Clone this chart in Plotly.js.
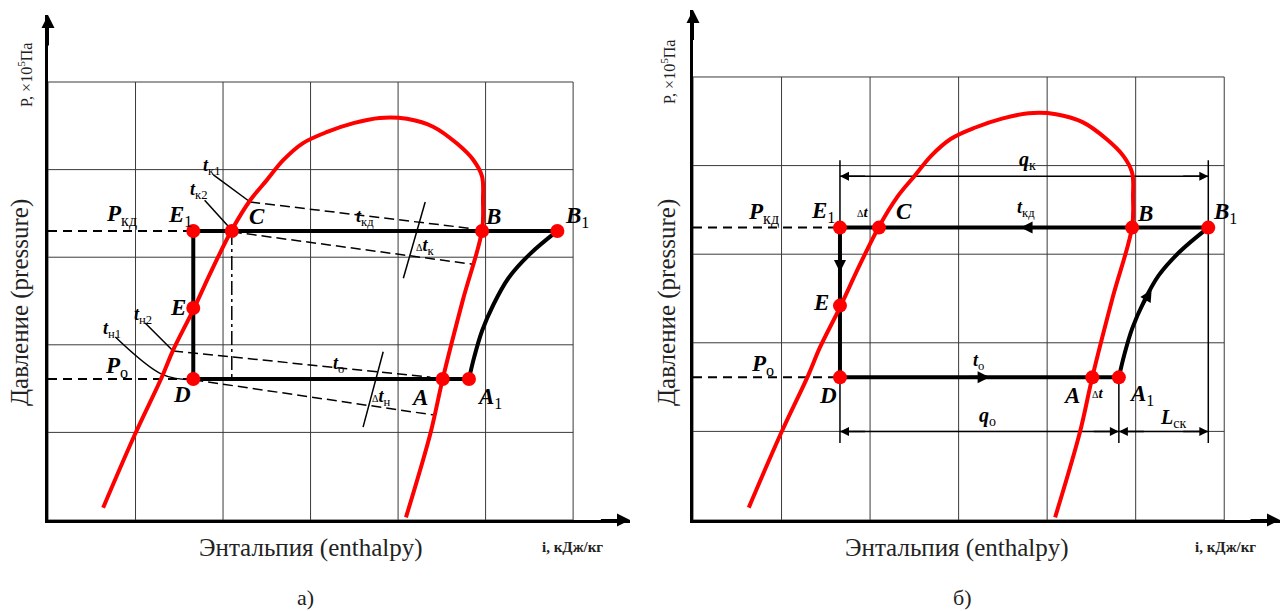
<!DOCTYPE html>
<html><head><meta charset="utf-8">
<script src="https://cdn.plot.ly/plotly-3.0.1.min.js"></script>
<style>html,body{margin:0;padding:0;background:#fff}#chart{width:1281px;height:611px}</style>
</head><body><div id="chart"></div>
<script>
// ---- data (diagram units: one grid cell = 1) ----
const gridX = [0, 1, 2, 3, 4, 5, 6];
const gridY = [0, 1, 2, 3, 4, 5];
// saturation dome (red)
const satX = [0.63, 0.99, 1.30, 1.43, 1.66, 1.87, 2.10, 2.31, 2.50, 2.69, 2.91, 3.19, 3.49, 3.79, 4.10, 4.40, 4.67, 4.86, 4.96, 4.97, 4.96, 4.74, 4.51, 4.37, 4.09];
const satY = [0.14, 0.97, 1.63, 1.94, 2.40, 2.85, 3.31, 3.65, 3.88, 4.11, 4.30, 4.43, 4.53, 4.59, 4.58, 4.49, 4.30, 4.11, 3.92, 3.65, 3.31, 2.51, 1.61, 0.99, 0.03];
// compression curve A1 -> B1
const compX = [4.81, 4.87, 4.96, 5.09, 5.26, 5.50, 5.82];
const compY = [1.61, 1.86, 2.16, 2.46, 2.76, 3.03, 3.30];
// state points
const pointNames = ['E1', 'C', 'B', 'B1', 'E', 'D', 'A', 'A1'];
const pointX = [1.66, 2.10, 4.96, 5.82, 1.66, 1.66, 4.51, 4.81];
const pointY = [3.30, 3.30, 3.30, 3.30, 2.42, 1.61, 1.61, 1.61];
const pKd = 3.30, pO = 1.61;
const iE1 = 1.66, iC = 2.10, iB1 = 5.82, iA1 = 4.81;
// panel a) temperature lines
const tk1LeadX = [1.89, 2.31], tk1LeadY = [3.94, 3.63];
const tk1DashX = [2.31, 4.82], tk1DashY = [3.63, 3.33];
const tk2LeadX = [1.79, 2.08], tk2LeadY = [3.65, 3.33];
const tk2DashX = [2.10, 4.85], tk2DashY = [3.29, 2.92];
const dtkX = [4.31, 4.06], dtkY = [3.63, 2.76];
const tn1LeadX = [0.77, 1.31, 1.66], tn1LeadY = [2.09, 1.66, 1.60];
const tn1DashX = [1.66, 4.40], tn1DashY = [1.60, 1.20];
const tn2LeadX = [1.11, 1.43], tn2LeadY = [2.25, 1.93];
const tn2DashX = [1.43, 4.37], tn2DashY = [1.93, 1.63];
const dtnX = [3.83, 3.60], dtnY = [1.92, 1.06];
// panel б) dimension lines
const qkLevel = 3.88, qoLevel = 1.00, extTop = 4.06, extBottom = 0.87;

// ---- helpers ----
const FONT = 'Liberation Serif';
function gridTrace(xa, ya) {
  const xs = [], ys = [];
  const x0 = gridX[0], x1 = gridX[gridX.length - 1], y0 = gridY[0], y1 = gridY[gridY.length - 1];
  gridX.forEach(g => { xs.push(g, g, null); ys.push(y0, y1, null); });
  gridY.forEach(g => { xs.push(x0, x1, null); ys.push(g, g, null); });
  return {x: xs, y: ys, xaxis: xa, yaxis: ya, mode: 'lines', line: {color: '#3a3a3a', width: 1}, hoverinfo: 'skip'};
}
function line(x, y, xa, ya, opts) {
  return Object.assign({x: x, y: y, xaxis: xa, yaxis: ya, mode: 'lines', hoverinfo: 'skip',
    line: {color: '#000', width: 1.5}}, opts || {});
}
function cycleTraces(xa, ya) {
  return [
    line([0, iE1], [pKd, pKd], xa, ya, {line: {color: '#000', width: 2, dash: '9px,6px'}}),
    line([0, iE1], [pO, pO], xa, ya, {line: {color: '#000', width: 2, dash: '9px,6px'}}),
    line([iE1, iB1], [pKd, pKd], xa, ya, {line: {color: '#000', width: 4}}),
    line([iE1, iE1], [pKd, pO], xa, ya, {line: {color: '#000', width: 4}}),
    line([iE1, iA1], [pO, pO], xa, ya, {line: {color: '#000', width: 4}}),
    line(compX, compY, xa, ya, {line: {color: '#000', width: 4, shape: 'spline', smoothing: 1}}),
    line(satX, satY, xa, ya, {line: {color: '#ff0000', width: 4, shape: 'spline', smoothing: 1}}),
    {x: pointX, y: pointY, text: pointNames, xaxis: xa, yaxis: ya, mode: 'markers', hoverinfo: 'text',
     marker: {color: '#ff0000', size: 14}}
  ];
}
const traces = [gridTrace('x', 'y'), gridTrace('x2', 'y2')];
// panel a)
traces.push(line([iC, iC], [pKd, pO], 'x', 'y', {line: {color: '#000', width: 1.5, dash: '14px,4px,3px,4px'}}));
traces.push(line(tk1LeadX, tk1LeadY, 'x', 'y'));
traces.push(line(tk1DashX, tk1DashY, 'x', 'y', {line: {color: '#000', width: 1.5, dash: '10px,5px'}}));
traces.push(line(tk2LeadX, tk2LeadY, 'x', 'y'));
traces.push(line(tk2DashX, tk2DashY, 'x', 'y', {line: {color: '#000', width: 1.5, dash: '10px,5px'}}));
traces.push(line(dtkX, dtkY, 'x', 'y'));
traces.push(line(tn1LeadX, tn1LeadY, 'x', 'y', {line: {color: '#000', width: 1.5, shape: 'spline'}}));
traces.push(line(tn1DashX, tn1DashY, 'x', 'y', {line: {color: '#000', width: 1.5, dash: '10px,5px'}}));
traces.push(line(tn2LeadX, tn2LeadY, 'x', 'y'));
traces.push(line(tn2DashX, tn2DashY, 'x', 'y', {line: {color: '#000', width: 1.5, dash: '10px,5px'}}));
traces.push(line(dtnX, dtnY, 'x', 'y'));
cycleTraces('x', 'y').forEach(t => traces.push(t));
// panel б)
traces.push(line([iE1, iE1], [extBottom, extTop], 'x2', 'y2'));
traces.push(line([iB1, iB1], [extBottom, extTop], 'x2', 'y2'));
traces.push(line([iA1, iA1], [pO, extBottom], 'x2', 'y2'));
traces.push(line([iE1, iB1], [qkLevel, qkLevel], 'x2', 'y2'));
traces.push(line([iE1, iB1], [qoLevel, qoLevel], 'x2', 'y2'));
cycleTraces('x2', 'y2').forEach(t => traces.push(t));

// ---- annotations ----
const ann = [];
function txt(t, x, y, size, xa, ya, extra) {
  ann.push(Object.assign({text: t, x: x, y: y, xref: xa, yref: ya, showarrow: false,
    font: {family: FONT, size: size, color: '#000'}, xanchor: 'center', yanchor: 'middle'}, extra || {}));
}
function arrow(x, y, ax, ay, xa, ya, w, s) {
  ann.push({text: '', x: x, y: y, ax: ax, ay: ay, xref: xa, yref: ya, axref: xa, ayref: ya,
    showarrow: true, arrowhead: 2, arrowsize: s || 1, arrowwidth: w || 1.5, arrowcolor: '#000', standoff: 0, startstandoff: 0});
}
const L = (s) => '<b><i>' + s + '</i></b>';
const BIG = 23, MID = 18;
[['x', 'y'], ['x2', 'y2']].forEach(([xa, ya]) => {
  arrow(xa === 'x' ? 6.65 : 6.63, 0, xa === 'x' ? 6.3 : 6.28, 0, xa, ya, 2, 1.3);
  arrow(0, xa === 'x' ? 5.765 : 5.756, 0, 5.4, xa, ya, 2, 1.3);
});
// panel a) labels
txt(L('P') + '<sub>кд</sub>', 0.84, 3.48, BIG, 'x', 'y');
txt(L('E') + '<sub>1</sub>', 1.51, 3.47, BIG, 'x', 'y');
txt(L('C'), 2.39, 3.47, BIG, 'x', 'y');
txt(L('B'), 5.09, 3.47, BIG, 'x', 'y');
txt(L('B') + '<sub>1</sub>', 6.04, 3.46, BIG, 'x', 'y');
txt(L('E'), 1.49, 2.43, BIG, 'x', 'y');
txt(L('D'), 1.53, 1.43, BIG, 'x', 'y');
txt(L('P') + '<sub>о</sub>', 0.78, 1.75, BIG, 'x', 'y');
txt(L('A'), 4.25, 1.40, BIG, 'x', 'y');
txt(L('A') + '<sub>1</sub>', 5.05, 1.39, BIG, 'x', 'y');
txt(L('t') + '<sub>к1</sub>', 1.87, 4.04, MID, 'x', 'y');
txt(L('t') + '<sub>к2</sub>', 1.72, 3.76, MID, 'x', 'y');
txt(L('t') + '<sub>кд</sub>', 3.62, 3.45, MID, 'x', 'y');
txt('<span style="font-size:10px">Δ</span>' + L('t') + '<sub>к</sub>', 4.31, 3.12, MID, 'x', 'y');
txt(L('t') + '<sub>н1</sub>', 0.73, 2.18, MID, 'x', 'y');
txt(L('t') + '<sub>н2</sub>', 1.09, 2.33, MID, 'x', 'y');
txt(L('t') + '<sub>о</sub>', 3.32, 1.78, MID, 'x', 'y');
txt('<span style="font-size:10px">Δ</span>' + L('t') + '<sub>н</sub>', 3.80, 1.40, MID, 'x', 'y');
// panel б) labels
txt(L('P') + '<sub>кд</sub>', 0.80, 3.46, BIG, 'x2', 'y2');
txt(L('E') + '<sub>1</sub>', 1.47, 3.48, BIG, 'x2', 'y2');
txt('<span style="font-size:10px">Δ</span>' + L('t'), 1.91, 3.48, 15, 'x2', 'y2');
txt(L('C'), 2.38, 3.48, BIG, 'x2', 'y2');
txt(L('t') + '<sub>кд</sub>', 3.76, 3.52, MID, 'x2', 'y2');
txt(L('B'), 5.10, 3.46, BIG, 'x2', 'y2');
txt(L('B') + '<sub>1</sub>', 6.01, 3.46, BIG, 'x2', 'y2');
txt(L('q') + '<sub>к</sub>', 3.78, 4.06, 20, 'x2', 'y2');
txt(L('E'), 1.45, 2.45, BIG, 'x2', 'y2');
txt(L('P') + '<sub>о</sub>', 0.78, 1.75, BIG, 'x2', 'y2');
txt(L('D'), 1.52, 1.41, BIG, 'x2', 'y2');
txt(L('t') + '<sub>о</sub>', 3.23, 1.79, MID, 'x2', 'y2');
txt(L('A'), 4.27, 1.41, BIG, 'x2', 'y2');
txt('<span style="font-size:10px">Δ</span>' + L('t'), 4.57, 1.43, 15, 'x2', 'y2');
txt(L('A') + '<sub>1</sub>', 5.06, 1.41, BIG, 'x2', 'y2');
txt(L('q') + '<sub>о</sub>', 3.33, 1.17, 20, 'x2', 'y2');
txt(L('L') + '<sub>ск</sub>', 5.42, 1.14, 20, 'x2', 'y2');
// dimension arrows (panel б)
arrow(iE1, qkLevel, iE1 + 0.3, qkLevel, 'x2', 'y2', 1.5, 1.2);
arrow(iB1, qkLevel, iB1 - 0.3, qkLevel, 'x2', 'y2', 1.5, 1.2);
arrow(iE1, qoLevel, iE1 + 0.3, qoLevel, 'x2', 'y2', 1.5, 1.2);
arrow(iA1, qoLevel, iA1 - 0.3, qoLevel, 'x2', 'y2', 1.5, 1.2);
arrow(iA1, qoLevel, iA1 + 0.3, qoLevel, 'x2', 'y2', 1.5, 1.2);
arrow(iB1, qoLevel, iB1 - 0.3, qoLevel, 'x2', 'y2', 1.5, 1.2);
// flow arrows (panel б)
arrow(3.70, pKd, 3.95, pKd, 'x2', 'y2', 3, 0.8);
arrow(iE1, 2.80, iE1, 3.05, 'x2', 'y2', 3, 0.8);
arrow(3.35, pO, 3.10, pO, 'x2', 'y2', 3, 0.8);
arrow(5.18, 2.60, 5.05, 2.38, 'x2', 'y2', 3, 0.8);
// axis titles & captions
function ptxt(t, px, py, size, angle) {
  ann.push({text: t, x: px / 1281, y: 1 - py / 611, xref: 'paper', yref: 'paper', showarrow: false,
    textangle: angle || 0, font: {family: FONT, size: size, color: '#222'}, xanchor: 'center', yanchor: 'middle'});
}
ptxt('Давление (pressure)', 20, 303, 25, -90);
ptxt('P, ×10<sup>5</sup>Па', 25, 75, 16, -90);
ptxt('Энтальпия (enthalpy)', 311, 548, 25);
ptxt('<b>i, кДж/кг</b>', 572, 547, 15);
ptxt('а)', 305, 597, 22);
ptxt('Давление (pressure)', 667, 303, 25, -90);
ptxt('P, ×10<sup>5</sup>Па', 668, 72, 16, -90);
ptxt('Энтальпия (enthalpy)', 957, 548, 25);
ptxt('<b>i, кДж/кг</b>', 1225, 547, 15);
ptxt('б)', 963, 597, 22);

const axisBase = {showgrid: false, zeroline: false, showticklabels: false, ticks: '', showline: true,
  linecolor: '#000', linewidth: 3, fixedrange: true};
const layout = {
  width: 1281, height: 611, margin: {l: 0, r: 0, t: 0, b: 0}, showlegend: false,
  paper_bgcolor: '#fff', plot_bgcolor: '#fff',
  font: {family: FONT},
  xaxis: Object.assign({}, axisBase, {domain: [48 / 1281, 630 / 1281], range: [0, 6.65], anchor: 'y'}),
  yaxis: Object.assign({}, axisBase, {domain: [1 - 520 / 611, 1 - 15 / 611], range: [0, 5.765], anchor: 'x'}),
  xaxis2: Object.assign({}, axisBase, {domain: [693 / 1281, 1280 / 1281], range: [0, 6.63], anchor: 'y2'}),
  yaxis2: Object.assign({}, axisBase, {domain: [1 - 520 / 611, 1 - 10 / 611], range: [0, 5.756], anchor: 'x2'}),
  annotations: ann
};
Plotly.newPlot('chart', traces, layout, {displayModeBar: false, staticPlot: true});
</script></body></html>
